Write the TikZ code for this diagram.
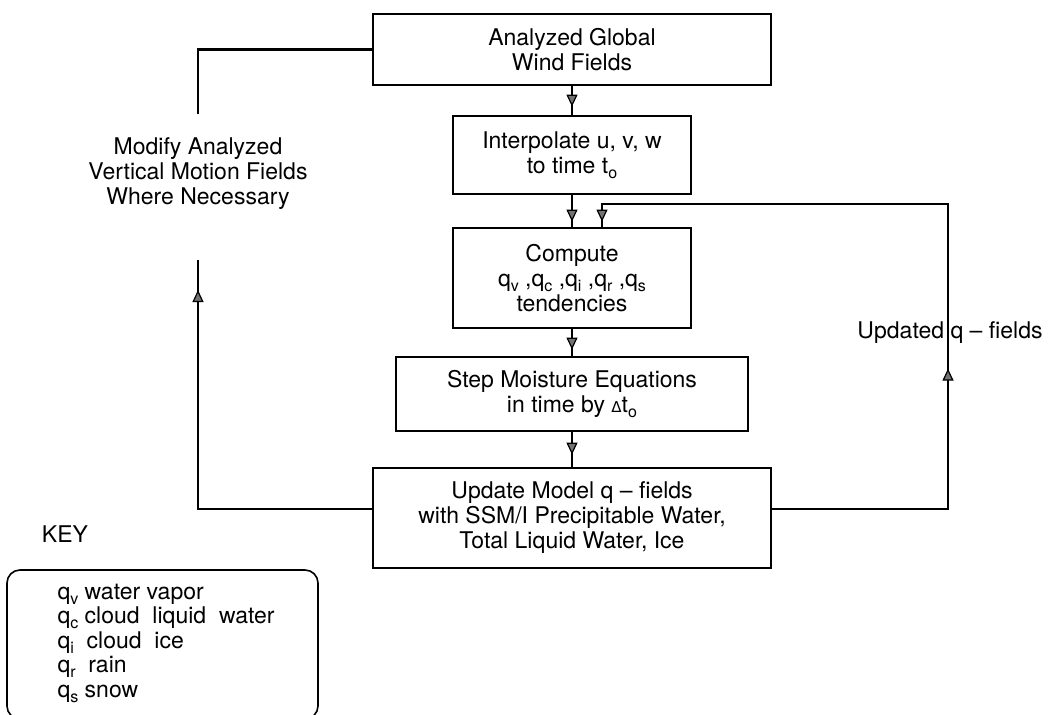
\documentclass[tikz,border=0pt]{standalone}
\usepackage{fontspec}
\setmainfont{TeX Gyre Heros}
\newfontfamily\deltafont{DejaVu Sans}
\usetikzlibrary{arrows.meta,decorations.markings}

\newcommand\lowsub[1]{\raisebox{-5pt}{\fontsize{16}{16}\selectfont #1}}

\tikzset{
  flowtip/.tip={Triangle[width=11pt,length=12pt,fill=black!55,line width=1.2pt]},
  flowbox/.style={draw,line width=2.8pt,align=center,inner sep=0pt,font=\fontsize{23}{25}\selectfont},
  note/.style={align=center,font=\fontsize{23}{25}\selectfont},
  link/.style={line width=2.8pt},
  tipat/.style={postaction={decorate,decoration={markings,mark=at position #1 with {\arrow{flowtip}}}}}
}

\begin{document}
\begin{tikzpicture}[x=1pt,y=-1pt]
  \useasboundingbox (0,0) rectangle (1050,715);
  % main chain
  \node[flowbox,minimum width=398pt,minimum height=71pt] (wind) at (572,49.5) {Analyzed Global\\Wind Fields};
  \node[flowbox,minimum width=238pt,minimum height=78pt] (interp) at (572,155) {Interpolate u, v, w\\to time t\lowsub{o}};
  \node[flowbox,minimum width=238pt,minimum height=100pt] (tend) at (572,278)
    {Compute\\q\lowsub{v} ,q\lowsub{c} ,q\lowsub{i} ,q\lowsub{r} ,q\lowsub{s}\\tendencies};
  \node[flowbox,minimum width=352pt,minimum height=74pt] (step) at (572,394)
    {Step Moisture Equations\\in time by {\deltafont\fontsize{15}{15}\selectfont Δ}t\lowsub{o}};
  \node[flowbox,minimum width=398pt,minimum height=100pt] (update) at (572,518)
    {Update Model q -- fields\\with SSM/I Precipitable Water,\\Total Liquid Water, Ice};
  \draw[link,tipat=-8pt] (wind) -- (interp);
  \draw[link,tipat=-5pt] (interp) -- (tend);
  \draw[link,tipat=-6pt] (tend) -- (step);
  \draw[link,tipat=-12pt] (step) -- (update);

  % left loop
  \node[note] (modify) at (198,174) {Modify Analyzed\\Vertical Motion Fields\\Where Necessary};
  \coordinate (modtop) at (198,114);
  \coordinate (modbot) at (198,260);
  \draw[link] (modtop) |- (wind.west);
  \draw[link,tipat=-30pt] ([yshift=9pt]update.west) -| (modbot);

  % right loop
  \node[note] (upd) at (950,333) {Updated q -- fields};
  \coordinate (fbcorner) at (948,204);
  \draw[link,tipat=316pt,tipat=-5pt] ([yshift=9pt]update.east) -| (fbcorner) -| ([xshift=30pt]tend.north);

  % key
  \node[note] (keyhead) at (65,534) {KEY};
  \draw[line width=1.6pt,rounded corners=13pt] (7,570) rectangle (318,719);
  \node[note,align=left,anchor=west,font=\fontsize{23}{24.5}\selectfont] (keytext) at (54,643)
    {q\lowsub{v} water vapor\\q\lowsub{c} cloud\ \ liquid\ \ water\\q\lowsub{i}\ \ cloud\ \ ice\\q\lowsub{r}\ \ rain\\q\lowsub{s} snow};
\end{tikzpicture}
\end{document}
